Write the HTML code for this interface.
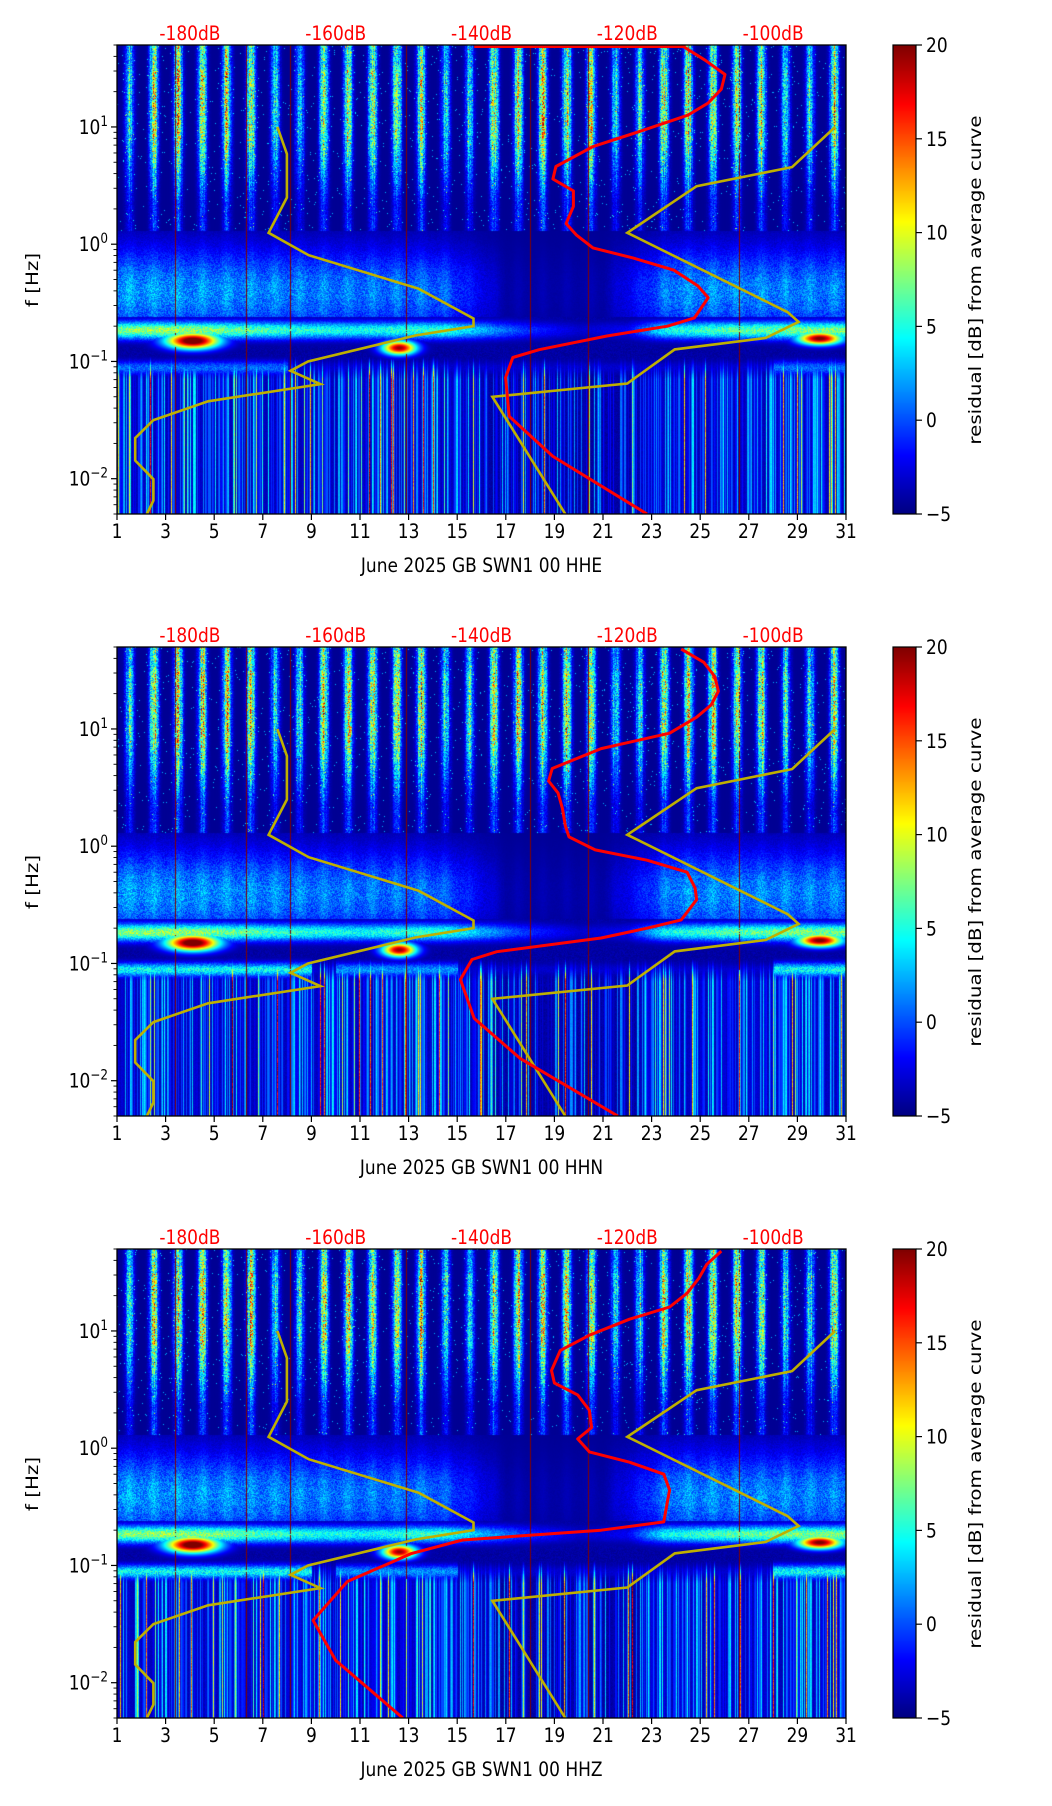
<!DOCTYPE html>
<html><head><meta charset="utf-8">
<style>
html,body{margin:0;padding:0;background:#fff;}
#root{position:relative;width:1052px;height:1806px;overflow:hidden;background:#fff;}
canvas{position:absolute;}
svg{position:absolute;left:0;top:0;}
text{font-family:"DejaVu Sans","Liberation Sans",sans-serif;}
</style></head>
<body>
<div id="root">
<svg id="ov" width="1052" height="1806"></svg>
</div>
<script>
// ---------- data ----------
const panelTitles = ["June 2025 GB SWN1 00 HHE","June 2025 GB SWN1 00 HHN","June 2025 GB SWN1 00 HHZ"];
const dayTicks = [1,3,5,7,9,11,13,15,17,19,21,23,25,27,29,31];
const freqTicks = [0.01,0.1,1,10];
const freqTickExp = ["−2","−1","0","1"];
const dbTicks = [-180,-160,-140,-120,-100];
const cbTicks = [-5,0,5,10,15,20];
const nlnmFreq = [10,5.882,2.5,1.25,0.806,0.4167,0.2326,0.2,0.1667,0.1,0.0833,0.0641,0.0457,0.0316,0.0222,0.0143,0.0099,0.0065,0.005];
const nlnmDb = [-168.0,-166.7,-166.7,-169.2,-163.7,-148.6,-141.1,-141.1,-149.0,-163.8,-166.2,-162.1,-177.5,-185.0,-187.5,-187.5,-185.0,-185.0,-185.9];
const nhnmFreq = [10,4.545,3.125,1.25,0.263,0.2174,0.1587,0.1266,0.0649,0.05,0.005];
const nhnmDb = [-91.5,-97.4,-110.5,-120.0,-98.0,-96.5,-101.0,-113.5,-120.0,-138.5,-128.5];
const redFreq = [48,37,28,21,16,12.6,9.2,6.8,4.6,3.6,2.85,2.1,1.5,1.2,0.93,0.76,0.6,0.44,0.35,0.235,0.2,0.165,0.126,0.108,0.073,0.034,0.0155,0.005];
const redDbHHE = [-112.2,-109.3,-106.6,-107.1,-108.9,-111.7,-118.2,-124.7,-129.8,-130.2,-127.4,-127.4,-128.4,-127.0,-124.7,-119.1,-113.6,-110.3,-108.9,-110.8,-114.5,-122.8,-132.1,-135.7,-136.7,-136.2,-130.2,-117.3];
const redDbHHN = [-112.6,-109.5,-108.0,-107.5,-108.5,-110.5,-114.2,-123.6,-130.3,-130.8,-129.5,-128.9,-128.5,-128.0,-124.4,-117.3,-111.8,-110.7,-110.5,-112.6,-117.3,-123.6,-137.9,-141.3,-142.9,-141.0,-134.7,-121.3];
const redDbHHZ = [-107.1,-109.1,-110.2,-111.8,-114.2,-119.7,-125.2,-129.2,-130.4,-130.0,-126.8,-125.2,-124.9,-126.8,-125.2,-119.7,-115.0,-114.2,-114.5,-115.0,-123.6,-142.6,-149.7,-152.1,-158.4,-163.1,-160.0,-150.8];
const redSeries = [redDbHHE, redDbHHN, redDbHHZ];
const darkLineDays = [3.4,6.3,8.1,12.9,18.0,20.4,26.6];

// ---------- geometry ----------
const PL=117, PR=846, PH=469;
const panelTops=[45,647,1249];
const FMAX=50, FMIN=0.005;
const CBL=893, CBW=23;
function xDay(d){return PL+(d-1)/30*(PR-PL);}
function yFreq(f,top){return top+(Math.log10(FMAX)-Math.log10(f))/(Math.log10(FMAX)-Math.log10(FMIN))*PH;}
function xDb(v){return PL+(v+190)/100*(PR-PL);}
function yCb(v,top){return top+PH-(v+5)/25*PH;}

const NS="http://www.w3.org/2000/svg";
const ov=document.getElementById('ov');
function mk(tag,attrs,parent){const e=document.createElementNS(NS,tag);for(const k in attrs)e.setAttribute(k,attrs[k]);(parent||ov).appendChild(e);return e;}

function jet(t){t=Math.max(0,Math.min(1,t));
 const r=Math.max(0,Math.min(1,1.5-Math.abs(4*t-3)));
 const g=Math.max(0,Math.min(1,1.5-Math.abs(4*t-2)));
 const b=Math.max(0,Math.min(1,1.5-Math.abs(4*t-1)));
 return [r*255|0,g*255|0,b*255|0];}
function mulberry(a){return function(){a|=0;a=a+0x6D2B79F5|0;let t=Math.imul(a^a>>>15,1|a);t=t+Math.imul(t^t>>>7,61|t)^t;return((t^t>>>14)>>>0)/4294967296;}}
function interp(xs,ys,x){if(x<=xs[0])return ys[0];for(let i=1;i<xs.length;i++){if(x<=xs[i]){const t=(x-xs[i-1])/(xs[i]-xs[i-1]);return ys[i-1]+t*(ys[i]-ys[i-1]);}}return ys[ys.length-1];}

// texture control (appearance only)
const msDays=[1,3,5,8,11,13,14.5,16,17.5,20,22,23.5,26,29,31];
const msLev=[8,9,8,6,5,6,6,3,0,-3,-2,5,7,8,8];
const humDays=[1,6,10,14,15.5,17,21,22.5,24,31];
const humLev=[2.5,2,1.5,1,-1,-4,-4,-1,2,1.5];

function spectro(pi){
 const top=panelTops[pi];
 const W=PR-PL,H=PH;
 const c=document.createElement('canvas');c.width=W;c.height=H;
 c.style.left=PL+'px';c.style.top=top+'px';
 
 
 document.getElementById('root').insertBefore(c,ov);
 const ctx=c.getContext('2d');const img=ctx.createImageData(W,H);const D=img.data;
 const rnd=mulberry(1234+pi*77);
 const colLow=[],colDark=[],colAmp=[];
 for(let x=0;x<W;x++){const r=rnd();const sp=rnd()<0.07?(6+rnd()*12):0;colLow.push(-4+9*Math.pow(r,2.5)+sp);colDark.push(0);colAmp.push(0.7+0.6*rnd());}
 darkLineDays.forEach(d=>{const x=Math.round(xDay(d)-PL);if(x>=0&&x<W)colDark[x]=1;});
 for(let y=0;y<H;y++){
  const lf=Math.log10(FMAX)-y/H*4;
  for(let x=0;x<W;x++){
   const d=1+x/W*30;const di=Math.floor(d);const fr=d-di;
   const dow=(di-1)%7; const wk=(dow===0||dow===6);
   const n=rnd();
   let v=-4.6+n*1.0;
   if(lf>0.12){
    const s=Math.exp(-Math.pow((fr-0.5)/0.17,2));
    const fenv=Math.min(1,Math.max(0.3,(lf-0.1)/0.85))*(lf>1.5?0.85:1);
    const A=(wk?11:17)*colAmp[x];
    v=-4.5+s*(A*fenv*(0.45+0.75*n));
    if(n>0.99) v+=7;
   } else if(lf>-0.62){
    const L=interp(humDays,humLev,d);
    const fshape=Math.exp(-Math.pow((lf+0.4)/0.38,2));
    const s=Math.exp(-Math.pow((fr-0.5)/0.22,2));
    v=-4.5+(L+4.5)*fshape*(0.55+0.6*n)+s*1.5*fshape*(L>0?1:0.3);
   }
   // microseism band
   let M=interp(msDays,msLev,d);
   const mb=Math.exp(-Math.pow((lf+0.73)/0.075,2));
   v=Math.max(v,-4.5+(M+4.5)*mb*(0.75+0.4*n));
   // second band ~0.09Hz
   let S=(pi===0)?((d<8||d>28)?1:-3):((d<9||d>28)?5:(d>10&&d<15?2:-3));
   const sb=Math.exp(-Math.pow((lf+1.05)/0.06,2));
   v=Math.max(v,-4.5+(S+4.5)*sb*(0.7+0.5*n));
   // blobs
   const b1=Math.exp(-Math.pow((d-4.1)/1.1,2)-Math.pow((lf+0.82)/0.07,2));
   const b2=Math.exp(-Math.pow((d-12.6)/0.7,2)-Math.pow((lf+0.88)/0.06,2));
   const b3=Math.exp(-Math.pow((d-29.9)/0.9,2)-Math.pow((lf+0.8)/0.055,2));
   v=Math.max(v,-4.5+27*b1,-4.5+24*b2,-4.5+25*b3);
   if(lf<-0.95){
    const fade=Math.min(1,(-0.95-lf)/0.2);
    let cv=colLow[x]*(0.8+0.2*n);
    if(d>16&&d<22.5) cv-=1.5;
    v=Math.max(v,-4.5+(cv+4.5)*fade);
   }
   if(colDark[x]&&v<6) v=20;
   const k=(y*W+x)*4;const col=jet((v+5)/25);
   D[k]=col[0];D[k+1]=col[1];D[k+2]=col[2];D[k+3]=255;
  }
 }
 ctx.putImageData(img,0,0);
 // colorbar
 const cb=document.createElement('canvas');cb.width=CBW;cb.height=PH;
 cb.style.left=CBL+'px';cb.style.top=top+'px';
 
 
 document.getElementById('root').insertBefore(cb,ov);
 const cc=cb.getContext('2d');
 for(let y=0;y<PH;y++){const col=jet(1-y/PH);cc.fillStyle=`rgb(${col[0]},${col[1]},${col[2]})`;cc.fillRect(0,y,CBW,1);}
}

function stext(str,x,y,opts){
 const g=mk('g',{transform:`translate(${x},${y}) scale(1,1.17)`+(opts.rot?' rotate(-90)':'')});
 const t=mk('text',{x:0,y:0,'font-size':opts.size||17,'text-anchor':opts.anchor||'middle',fill:opts.fill||'#000'},g);
 
 
 t.textContent=str;
 return t;
}

function linePath(fs,vs,top){
 let d='';for(let i=0;i<fs.length;i++){d+=(i?'L':'M')+xDb(vs[i]).toFixed(1)+','+yFreq(fs[i],top).toFixed(1);}return d;
}

for(let pi=0;pi<3;pi++){
 spectro(pi);
 const top=panelTops[pi];const bot=top+PH;
 const g=mk('g',{});
 
 
 const clipId='clip'+pi;
 const cp=mk('clipPath',{id:clipId},g);mk('rect',{x:PL,y:top,width:PR-PL,height:PH},cp);
 if(pi===0){
  const seg=mk('line',{x1:xDb(-141),y1:top+1.5,x2:xDb(-112),y2:top+1.5,stroke:'#ff0000','stroke-width':3},g);
  
  
 }
 const lo=mk('path',{d:linePath(nlnmFreq,nlnmDb,top),fill:'none',stroke:'#bfb000','stroke-width':2.6,'clip-path':`url(#${clipId})`},g);
 
 
 const hi=mk('path',{d:linePath(nhnmFreq,nhnmDb,top),fill:'none',stroke:'#bfb000','stroke-width':2.6,'clip-path':`url(#${clipId})`},g);
 
 
 const rc=mk('path',{d:linePath(redFreq,redSeries[pi],top),fill:'none',stroke:'#ff0000','stroke-width':3,'stroke-linejoin':'round','clip-path':`url(#${clipId})`},g);
 
 
 const fr=mk('rect',{x:PL,y:top,width:PR-PL,height:PH,fill:'none',stroke:'#000','stroke-width':1.3},g);
 
 
 dayTicks.forEach(d=>{
  const x=xDay(d);
  const tk=mk('line',{x1:x,y1:bot,x2:x,y2:bot+6,stroke:'#000','stroke-width':1.2},g);
  
  
  stext(String(d),x,bot+24,{name:'x-tick-label'});
 });
 freqTicks.forEach((f,i)=>{
  const y=yFreq(f,top);
  const tk=mk('line',{x1:PL-6,y1:y,x2:PL,y2:y,stroke:'#000','stroke-width':1.2},g);
  
  
  const gg=mk('g',{transform:`translate(${PL-9},${y+7}) scale(1,1.17)`},g);
  const t=mk('text',{x:0,y:0,'font-size':17,'text-anchor':'end',fill:'#000'},gg);
  
  
  const a=mk('tspan',{},t);a.textContent='10';
  const b=mk('tspan',{dy:-7,'font-size':12},t);b.textContent=freqTickExp[i];
 });
 for(let e=-3;e<=1;e++){for(let m=2;m<=9;m++){const f=m*Math.pow(10,e);if(f<FMIN||f>FMAX)continue;const y=yFreq(f,top);
  const mt=mk('line',{x1:PL-3.5,y1:y,x2:PL,y2:y,stroke:'#000','stroke-width':0.9},g);
  
  }}
 dbTicks.forEach(v=>{stext(v+'dB',xDb(v),top-5,{name:'db-scale-label',fill:'#ff0000'});});
 stext(panelTitles[pi],(PL+PR)/2,top+527,{name:'x-axis-title'});
 stext('f [Hz]',38,top+235,{name:'y-axis-title',rot:true});
 const cf=mk('rect',{x:CBL,y:top,width:CBW,height:PH,fill:'none',stroke:'#000','stroke-width':1.2},g);
 
 
 cbTicks.forEach(v=>{const y=yCb(v,top);
  const tk=mk('line',{x1:CBL+CBW,y1:y,x2:CBL+CBW+6,y2:y,stroke:'#000','stroke-width':1.2},g);
  
  
  stext(v<0?'−'+(-v):String(v),CBL+CBW+10,y+7,{name:'colorbar-tick-label',anchor:'start'});
 });
 stext('residual [dB] from average curve',981,top+235,{name:'colorbar-title',rot:true});
}
</script>
</body></html>
